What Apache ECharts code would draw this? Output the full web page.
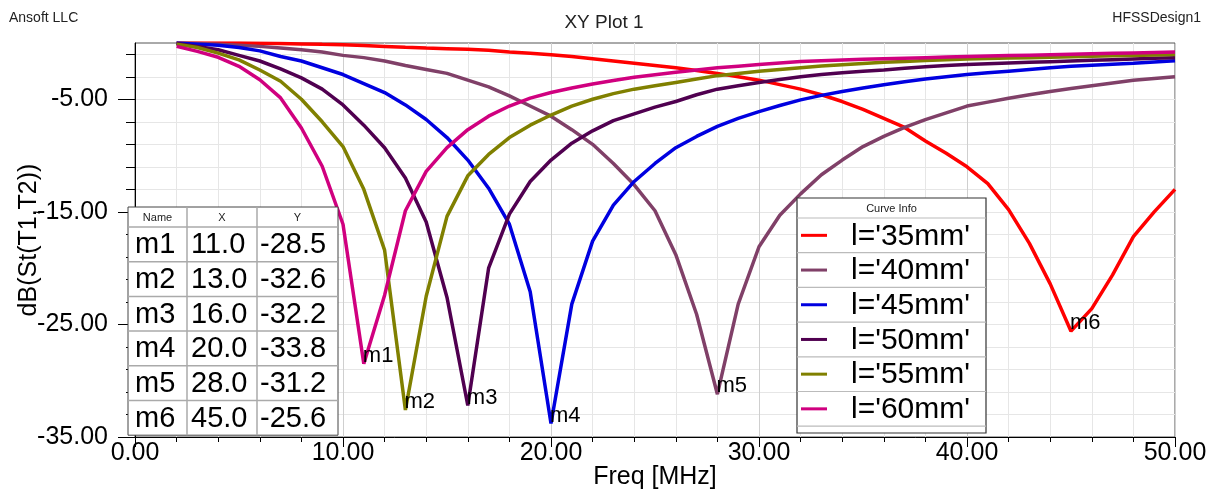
<!DOCTYPE html>
<html><head><meta charset="utf-8">
<script src="https://cdn.jsdelivr.net/npm/echarts@6/dist/echarts.min.js"></script>
<style>html,body{margin:0;padding:0;background:#fff}#c{width:1208px;height:489px}</style>
</head><body><div id="c"></div>
<script>
const freqMHz = [2,3,4,5,6,7,8,9,10,11,12,13,14,15,16,17,18,19,20,21,22,23,24,25,26,27,28,29,30,31,32,33,34,35,36,37,38,39,40,41,42,43,44,45,46,47,48,49,50];
const l35 = [0,0,0,0,-0.02,-0.05,-0.08,-0.12,-0.15,-0.22,-0.3,-0.38,-0.45,-0.5,-0.55,-0.65,-0.8,-0.9,-1.04,-1.2,-1.4,-1.6,-1.8,-2.0,-2.2,-2.45,-2.7,-3.0,-3.3,-3.7,-4.1,-4.6,-5.2,-5.9,-6.7,-7.5,-8.7,-9.8,-11.0,-12.5,-14.8,-17.8,-21.4,-25.6,-23.6,-20.6,-17.2,-15.0,-13.0];
const l40 = [0,-0.05,-0.1,-0.2,-0.3,-0.45,-0.6,-0.8,-1.1,-1.3,-1.6,-2.0,-2.35,-2.7,-3.3,-3.9,-4.7,-5.6,-6.5,-7.7,-9.0,-10.7,-12.6,-14.9,-18.8,-24.1,-31.2,-23.2,-18.1,-15.3,-13.4,-11.7,-10.4,-9.2,-8.3,-7.5,-6.8,-6.2,-5.6,-5.25,-4.9,-4.6,-4.3,-4.05,-3.8,-3.55,-3.3,-3.15,-3.0];
const l45 = [0,-0.1,-0.2,-0.4,-0.7,-1.2,-1.6,-2.2,-2.8,-3.6,-4.4,-5.5,-6.8,-8.4,-10.4,-12.9,-16.1,-22.1,-33.8,-23.2,-17.6,-14.4,-12.3,-10.7,-9.3,-8.3,-7.4,-6.7,-6.1,-5.55,-5.05,-4.65,-4.3,-4.0,-3.7,-3.45,-3.2,-3.0,-2.8,-2.65,-2.5,-2.35,-2.2,-2.07,-1.97,-1.88,-1.8,-1.68,-1.57];
const l50 = [-0.05,-0.3,-0.6,-1.1,-1.6,-2.3,-3.1,-4.1,-5.5,-7.3,-9.3,-12.0,-15.9,-22.6,-32.2,-20.0,-15.2,-12.3,-10.4,-8.9,-7.8,-6.9,-6.3,-5.7,-5.2,-4.6,-4.1,-3.8,-3.5,-3.25,-3.0,-2.8,-2.65,-2.5,-2.4,-2.25,-2.12,-2.0,-1.9,-1.84,-1.78,-1.72,-1.66,-1.6,-1.54,-1.48,-1.42,-1.36,-1.3];
const l55 = [-0.1,-0.4,-0.9,-1.5,-2.4,-3.4,-5.0,-7.0,-9.2,-13.0,-18.4,-32.6,-22.5,-15.4,-11.8,-9.9,-8.4,-7.3,-6.4,-5.6,-5.0,-4.5,-4.1,-3.8,-3.5,-3.2,-2.9,-2.7,-2.5,-2.35,-2.2,-2.05,-1.93,-1.82,-1.72,-1.64,-1.56,-1.49,-1.42,-1.38,-1.34,-1.3,-1.26,-1.22,-1.18,-1.14,-1.1,-1.06,-1.02];
const l60 = [-0.3,-0.74,-1.27,-2.07,-3.26,-4.88,-7.55,-10.95,-16.1,-28.5,-22.4,-14.9,-11.4,-9.3,-7.7,-6.5,-5.6,-4.9,-4.4,-4.0,-3.64,-3.33,-3.05,-2.82,-2.6,-2.4,-2.2,-2.06,-1.92,-1.78,-1.65,-1.57,-1.5,-1.45,-1.4,-1.35,-1.3,-1.25,-1.2,-1.16,-1.12,-1.08,-1.04,-1.0,-0.96,-0.92,-0.88,-0.84,-0.8];
const curveNames = ["l='35mm'", "l='40mm'", "l='45mm'", "l='50mm'", "l='55mm'", "l='60mm'"];
const curveColors = ['#ff0000', '#804068', '#0000e0', '#500050', '#808000', '#d0007f'];
const markerNames = ['m1','m2','m3','m4','m5','m6'];
const markerX = [11.0, 13.0, 16.0, 20.0, 28.0, 45.0];
const markerY = [-28.5, -32.6, -32.2, -33.8, -31.2, -25.6];
const yMajorTicks = [-35, -25, -15, -5];
const yMinorTicks = [-35,-33,-31,-29,-27,-25,-23,-21,-19,-17,-15,-13,-11,-9,-7,-5,-3,-1];

const FONT = '"Liberation Sans", Arial, sans-serif';
const curves = [l35, l40, l45, l50, l55, l60];
const chart = echarts.init(document.getElementById('c'), null, {renderer: 'canvas'});

const series = curves.map((vals, i) => ({
  name: curveNames[i], type: 'line', xAxisIndex: 0, yAxisIndex: 0,
  data: freqMHz.map((f, k) => [f, vals[k]]),
  showSymbol: false, symbol: 'none', smooth: false,
  lineStyle: {color: curveColors[i], width: 3.5},
  itemStyle: {color: curveColors[i]}, z: 3 + i, animation: false
}));
series.push({
  type: 'scatter', xAxisIndex: 0, yAxisIndex: 0,
  data: markerX.map((x, i) => [x, markerY[i]]),
  symbol: 'circle', symbolSize: 0, itemStyle: {color: '#000'}, z: 20, animation: false, silent: true,
  label: {show: true, position: 'right', distance: 0, offset: [-1, -8],
    formatter: p => markerNames[p.dataIndex], fontSize: 22, fontFamily: FONT, color: '#000', opacity: 1,
    textBorderWidth: 0}
});

// table + legend graphics
const g = [];
const tX = [128, 187, 257, 338];
const tTop = 207, tHead = 20, tRow = 34.7;
const tBottom = tTop + tHead + tRow * markerNames.length;
g.push({type: 'rect', shape: {x: tX[0], y: tTop, width: tX[3] - tX[0], height: tBottom - tTop}, style: {fill: '#fff', stroke: '#444', lineWidth: 1}, z: 100});
for (let c = 1; c < 3; c++) g.push({type: 'line', shape: {x1: tX[c], y1: tTop, x2: tX[c], y2: tBottom}, style: {stroke: '#aaa', lineWidth: 1.5}, z: 101});
for (let r = 0; r < markerNames.length; r++) {
  const y = tTop + tHead + r * tRow;
  g.push({type: 'line', shape: {x1: tX[0], y1: y, x2: tX[3], y2: y}, style: {stroke: '#aaa', lineWidth: 1.5}, z: 101});
}
['Name', 'X', 'Y'].forEach((h, c) => g.push({type: 'text', x: (tX[c] + tX[c + 1]) / 2, y: tTop + tHead / 2 + 1,
  style: {text: h, fill: '#222', font: '11px ' + FONT, align: 'center', verticalAlign: 'middle'}, z: 102}));
markerNames.forEach((m, r) => {
  const cy = tTop + tHead + r * tRow + tRow / 2 + 1;
  const vals = [m, markerX[r].toFixed(1), markerY[r].toFixed(1)];
  const lx = [135, 191, 260];
  vals.forEach((v, c) => g.push({type: 'text', x: lx[c], y: cy,
    style: {text: v, fill: '#000', font: '29px ' + FONT, align: 'left', verticalAlign: 'middle'}, z: 102}));
});
// legend box
const lgL = 797, lgR = 986, lgTop = 198, lgHead = 20, lgRow = 34.7, lgBottom = 433;
g.push({type: 'rect', shape: {x: lgL, y: lgTop, width: lgR - lgL, height: lgBottom - lgTop}, style: {fill: '#fff', stroke: '#333', lineWidth: 1.2}, z: 100});
g.push({type: 'text', x: (lgL + lgR) / 2, y: lgTop + lgHead / 2 + 1, style: {text: 'Curve Info', fill: '#222', font: '11px ' + FONT, align: 'center', verticalAlign: 'middle'}, z: 102});
curveNames.forEach((n, i) => {
  const y0 = lgTop + lgHead + i * lgRow;
  g.push({type: 'line', shape: {x1: lgL, y1: y0, x2: lgR, y2: y0}, style: {stroke: '#bbb', lineWidth: 1.2}, z: 101});
  const cy = y0 + lgRow / 2;
  g.push({type: 'line', shape: {x1: 801, y1: cy, x2: 827, y2: cy}, style: {stroke: curveColors[i], lineWidth: 3}, z: 102});
  g.push({type: 'text', x: 851, y: cy + 1, style: {text: n, fill: '#000', font: '30px ' + FONT, align: 'left', verticalAlign: 'middle'}, z: 102});
});
g.push({type: 'line', shape: {x1: lgL, y1: lgTop + lgHead + curveNames.length * lgRow, x2: lgR, y2: lgTop + lgHead + curveNames.length * lgRow}, style: {stroke: '#bbb', lineWidth: 1.2}, z: 101});
// header texts
g.push({type: 'text', x: 9, y: 11, style: {text: 'Ansoft LLC', fill: '#222', font: '14px ' + FONT}, z: 50});
g.push({type: 'text', x: 1201, y: 11, style: {text: 'HFSSDesign1', fill: '#222', font: '14px ' + FONT, align: 'right'}, z: 50});

const option = {
  backgroundColor: '#fff',
  animation: false,
  title: {text: 'XY Plot 1', left: 'center', top: 8, textStyle: {fontFamily: FONT, fontSize: 19, fontWeight: 'normal', color: '#222'}},
  grid: {left: 135, right: 33, top: 43, bottom: 52, outerBoundsMode: 'none', containLabel: false, show: true, borderColor: '#555', borderWidth: 1, backgroundColor: 'transparent'},
  xAxis: [{
    type: 'value', min: 0, max: 50, interval: 10,
    name: 'Freq [MHz]', nameLocation: 'middle', nameGap: 28, nameMoveOverlap: false,
    nameTextStyle: {fontFamily: FONT, fontSize: 25, color: '#000'},
    axisLine: {show: true, onZero: false, lineStyle: {color: '#000', width: 1}},
    axisTick: {show: true, inside: false, length: 10, lineStyle: {color: '#000'}},
    minorTick: {show: true, splitNumber: 5, length: 5, lineStyle: {color: '#000'}},
    splitLine: {show: true, lineStyle: {color: '#cfcfcf', width: 1}},
    minorSplitLine: {show: true, lineStyle: {color: '#e6e6e6', width: 1}},
    axisLabel: {formatter: v => v.toFixed(2), fontFamily: FONT, fontSize: 25, color: '#000', margin: 4}
  }],
  yAxis: [{
    type: 'value', min: -35, max: 0, interval: 5, position: 'left',
    name: 'dB(St(T1,T2))', nameLocation: 'middle', nameGap: 93, nameMoveOverlap: false,
    nameTextStyle: {fontFamily: FONT, fontSize: 25, color: '#000'},
    axisLine: {show: true, onZero: false, lineStyle: {color: '#000', width: 1}},
    axisTick: {show: true, length: 17, customValues: yMajorTicks, lineStyle: {color: '#000'}},
    splitLine: {show: true, lineStyle: {color: '#cfcfcf', width: 1}},
    axisLabel: {customValues: yMajorTicks, formatter: v => v.toFixed(2), fontFamily: FONT, fontSize: 25, color: '#000', margin: 27}
  }, {
    type: 'value', min: -35, max: 0, interval: 5, position: 'left', offset: 0,
    axisLine: {show: false},
    axisTick: {show: true, length: 9, customValues: yMinorTicks, lineStyle: {color: '#000'}},
    splitLine: {show: true, lineStyle: {color: '#e6e6e6', width: 1}},
    axisLabel: {show: false}
  }],
  series: series,
  graphic: g
};
chart.setOption(option);
</script></body></html>
